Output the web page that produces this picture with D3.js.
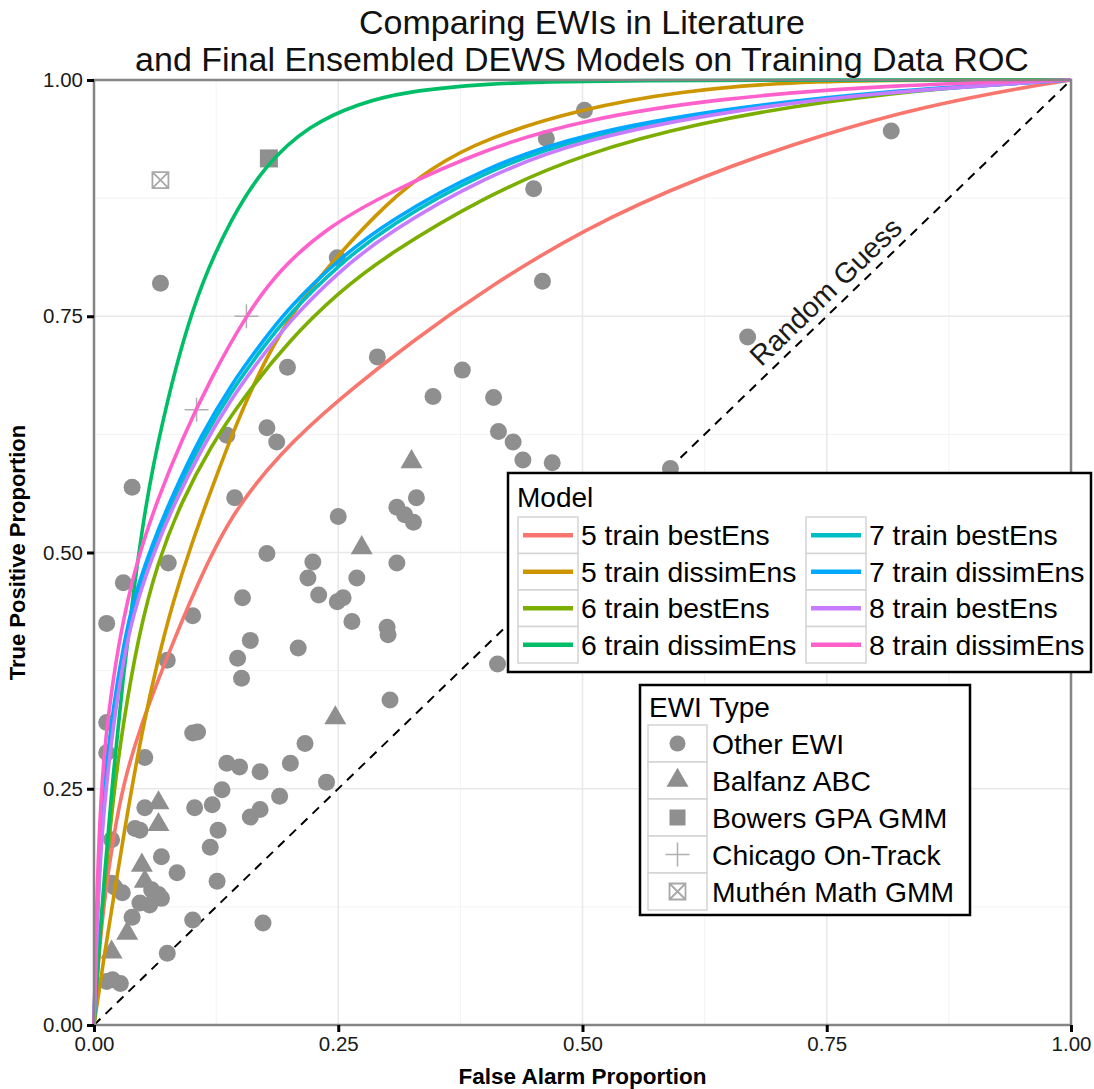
<!DOCTYPE html>
<html>
<head>
<meta charset="utf-8">
<script src="https://cdn.jsdelivr.net/npm/d3@7/dist/d3.min.js"></script>
<style>
  body { margin: 0; background: #fff; }
  text { font-family: "Liberation Sans", Arial, sans-serif; }
</style>
</head>
<body>
<div id="vis"></div>
<script>
// ---- data ----
var modelNames = ["5 train bestEns", "5 train dissimEns", "6 train bestEns", "6 train dissimEns",
                  "7 train bestEns", "7 train dissimEns", "8 train bestEns", "8 train dissimEns"];

// ROC points [false alarm, true positive]
var roc5Best = [[0,0],[0.003,0.05],[0.01,0.13],[0.02,0.2],[0.03,0.255],[0.047,0.315],[0.075,0.39],[0.105,0.465],
  [0.14,0.54],[0.19,0.605],[0.25,0.662],[0.33,0.727],[0.4,0.778],[0.5,0.842],[0.62,0.898],[0.75,0.944],[0.85,0.972],[0.95,0.992],[1,1]];
var roc5Dissim = [[0,0],[0.01,0.07],[0.02,0.135],[0.035,0.23],[0.05,0.315],[0.065,0.385],[0.08,0.445],[0.1,0.51],
  [0.122,0.572],[0.145,0.635],[0.175,0.705],[0.21,0.765],[0.25,0.815],[0.3,0.87],[0.345,0.907],[0.4,0.938],[0.5,0.97],
  [0.6,0.988],[0.7,0.997],[0.8,1],[1,1]];
var roc6Best = [[0,0],[0.005,0.08],[0.01,0.14],[0.02,0.245],[0.03,0.32],[0.045,0.41],[0.065,0.49],[0.09,0.555],
  [0.12,0.613],[0.15,0.66],[0.2,0.725],[0.25,0.775],[0.3,0.815],[0.4,0.877],[0.5,0.922],[0.62,0.955],[0.75,0.978],[0.88,0.993],[1,1]];
var roc6Dissim = [[0,0],[0.005,0.08],[0.01,0.15],[0.02,0.27],[0.03,0.37],[0.04,0.455],[0.05,0.53],[0.06,0.59],
  [0.075,0.66],[0.09,0.72],[0.11,0.785],[0.14,0.853],[0.175,0.91],[0.22,0.952],[0.27,0.975],[0.32,0.988],[0.4,0.996],[0.5,1],[1,1]];
var roc7Best = [[0,0],[0.002,0.075],[0.005,0.16],[0.01,0.24],[0.02,0.33],[0.03,0.393],[0.04,0.443],[0.06,0.504],
  [0.08,0.554],[0.11,0.618],[0.14,0.67],[0.17,0.713],[0.2,0.753],[0.25,0.804],[0.3,0.845],[0.4,0.904],[0.5,0.94],
  [0.64,0.967],[0.8,0.987],[1,1]];
var roc7Dissim = [[0,0],[0.002,0.08],[0.005,0.17],[0.01,0.25],[0.02,0.34],[0.03,0.4],[0.04,0.45],[0.06,0.51],
  [0.08,0.56],[0.11,0.625],[0.14,0.677],[0.17,0.72],[0.2,0.76],[0.25,0.81],[0.3,0.85],[0.4,0.908],[0.5,0.943],
  [0.64,0.969],[0.8,0.988],[1,1]];
var roc8Best = [[0,0],[0.002,0.07],[0.005,0.15],[0.01,0.23],[0.02,0.32],[0.03,0.385],[0.04,0.435],[0.06,0.497],
  [0.08,0.547],[0.11,0.61],[0.14,0.662],[0.17,0.705],[0.2,0.745],[0.25,0.797],[0.3,0.838],[0.4,0.898],[0.5,0.937],
  [0.64,0.966],[0.8,0.987],[1,1]];
var roc8Dissim = [[0,0],[0.002,0.1],[0.005,0.2],[0.01,0.29],[0.02,0.37],[0.03,0.43],[0.045,0.495],[0.065,0.556],
  [0.09,0.62],[0.12,0.685],[0.155,0.75],[0.19,0.8],[0.24,0.845],[0.3,0.88],[0.4,0.927],[0.5,0.958],[0.64,0.981],[0.82,0.995],[1,1]];

// early warning indicators from the literature
var otherEWI = [[0.068,0.785],[0.502,0.968],[0.463,0.938],[0.45,0.885],[0.459,0.787],[0.816,0.946],[0.669,0.728],
  [0.249,0.812],[0.29,0.707],[0.198,0.696],[0.377,0.693],[0.347,0.665],[0.409,0.664],[0.414,0.628],[0.429,0.617],
  [0.439,0.598],[0.469,0.595],[0.59,0.589],[0.413,0.382],
  [0.33,0.558],[0.31,0.548],[0.318,0.54],[0.327,0.532],[0.31,0.489],[0.3,0.421],
  [0.177,0.632],[0.187,0.617],[0.136,0.624],[0.039,0.569],[0.144,0.558],[0.25,0.538],[0.177,0.499],[0.076,0.489],
  [0.224,0.49],[0.219,0.473],[0.269,0.473],[0.03,0.468],[0.23,0.455],[0.249,0.448],[0.255,0.452],[0.152,0.452],
  [0.101,0.433],[0.264,0.427],[0.301,0.413],[0.16,0.407],[0.209,0.399],[0.147,0.388],[0.075,0.386],[0.151,0.367],
  [0.013,0.425],[0.303,0.344],
  [0.101,0.309],[0.106,0.31],[0.052,0.283],[0.216,0.298],[0.136,0.277],[0.149,0.273],[0.17,0.268],[0.201,0.277],
  [0.238,0.257],[0.131,0.249],[0.19,0.242],[0.052,0.23],[0.103,0.23],[0.121,0.233],[0.16,0.22],[0.17,0.228],
  [0.042,0.208],[0.047,0.206],[0.127,0.206],[0.119,0.188],[0.069,0.178],[0.085,0.161],[0.126,0.152],[0.018,0.15],
  [0.029,0.14],[0.059,0.143],[0.066,0.138],[0.069,0.134],[0.047,0.129],[0.057,0.127],[0.039,0.114],[0.101,0.111],
  [0.173,0.108],[0.075,0.076],[0.019,0.048],[0.027,0.044],[0.013,0.046],
  [0.013,0.32],[0.013,0.288],[0.018,0.196],[0.021,0.146]];
var balfanzABC = [[0.325,0.596],[0.274,0.505],[0.247,0.325],[0.066,0.235],[0.066,0.212],[0.049,0.169],
  [0.052,0.152],[0.034,0.097],[0.018,0.077]];
var bowersGPA = [[0.179,0.917]];
var chicagoOnTrack = [[0.156,0.75],[0.105,0.651]];
var muthenMath = [[0.068,0.894]];

var ewiNames = ["Other EWI", "Balfanz ABC", "Bowers GPA GMM", "Chicago On-Track", "Muthén Math GMM"];
var tickValues = [0, 0.25, 0.5, 0.75, 1];

// ---- layout ----
var margin = {top: 80, right: 23, bottom: 64, left: 94};
var W = 1094, H = 1089;
var width = W - margin.left - margin.right;
var height = H - margin.top - margin.bottom;

var svg = d3.select("#vis").append("svg")
  .attr("width", W).attr("height", H);

var g = svg.append("g")
  .attr("transform", "translate(" + margin.left + "," + margin.top + ")");

var x = d3.scaleLinear().domain([0, 1]).range([0, width]);
var y = d3.scaleLinear().domain([0, 1]).range([height, 0]);

var z = d3.scaleOrdinal()
  .domain(modelNames)
  .range(["#F8766D", "#CD9600", "#7CAE00", "#00BE67", "#00BFC4", "#00A9FF", "#C77CFF", "#FF61CC"]);

var grey = "#8f8f8f";

// grid
var minor = [0.125, 0.375, 0.625, 0.875];
g.append("g").selectAll("line.vminor").data(minor).enter().append("line")
  .attr("x1", x).attr("x2", x).attr("y1", 0).attr("y2", height)
  .attr("stroke", "#f3f3f3").attr("stroke-width", 1);
g.append("g").selectAll("line.hminor").data(minor).enter().append("line")
  .attr("y1", y).attr("y2", y).attr("x1", 0).attr("x2", width)
  .attr("stroke", "#f3f3f3").attr("stroke-width", 1);
g.append("g").selectAll("line").data(tickValues).enter().append("line")
  .attr("x1", x).attr("x2", x).attr("y1", 0).attr("y2", height)
  .attr("stroke", "#e8e8e8").attr("stroke-width", 1.5);
g.append("g").selectAll("line").data(tickValues).enter().append("line")
  .attr("y1", y).attr("y2", y).attr("x1", 0).attr("x2", width)
  .attr("stroke", "#e8e8e8").attr("stroke-width", 1.5);

// random guess
g.append("line")
  .attr("x1", x(0)).attr("y1", y(0)).attr("x2", x(1)).attr("y2", y(1))
  .attr("stroke", "#000").attr("stroke-width", 2).attr("stroke-dasharray", "9,7");

var angle = -Math.atan(height / width) * 180 / Math.PI;
g.append("text")
  .attr("transform", "translate(" + x(0.762) + "," + y(0.762) + ") rotate(" + angle + ")")
  .attr("text-anchor", "middle")
  .attr("dy", "-0.3em")
  .attr("font-size", 28.5)
  .attr("fill", "#1a1a1a")
  .text("Random Guess");

// EWI points
var pts = g.append("g");
pts.selectAll("circle").data(otherEWI).enter().append("circle")
  .attr("cx", function(d) { return x(d[0]); })
  .attr("cy", function(d) { return y(d[1]); })
  .attr("r", 8.5).attr("fill", grey);

var tri = d3.symbol().type(d3.symbolTriangle).size(210);
pts.selectAll("path.tri").data(balfanzABC).enter().append("path")
  .attr("d", tri)
  .attr("transform", function(d) { return "translate(" + x(d[0]) + "," + y(d[1]) + ")"; })
  .attr("fill", grey);

pts.selectAll("rect.sq").data(bowersGPA).enter().append("rect")
  .attr("x", function(d) { return x(d[0]) - 9; })
  .attr("y", function(d) { return y(d[1]) - 9; })
  .attr("width", 18).attr("height", 18).attr("fill", grey);

pts.selectAll("path.cross").data(chicagoOnTrack).enter().append("path")
  .attr("d", "M-12,0H12M0,-12V12")
  .attr("transform", function(d) { return "translate(" + x(d[0]) + "," + y(d[1]) + ")"; })
  .attr("stroke", "#b0b0b0").attr("stroke-width", 1.5).attr("fill", "none");

pts.selectAll("path.box").data(muthenMath).enter().append("path")
  .attr("d", "M-8,-8H8V8H-8ZM-8,-8L8,8M8,-8L-8,8")
  .attr("transform", function(d) { return "translate(" + x(d[0]) + "," + y(d[1]) + ")"; })
  .attr("stroke", "#a8a8a8").attr("stroke-width", 1.8).attr("fill", "none");

// ROC curves
var curves = [roc5Best, roc5Dissim, roc6Best, roc6Dissim, roc7Best, roc7Dissim, roc8Best, roc8Dissim];
var line = d3.line()
  .x(function(d) { return x(d[0]); })
  .y(function(d) { return y(d[1]); })
  .curve(d3.curveBasis);

g.append("g").selectAll("path").data(curves).enter().append("path")
  .attr("d", line)
  .attr("fill", "none")
  .attr("stroke", function(d, i) { return z(modelNames[i]); })
  .attr("stroke-width", 3.6);

// panel border
g.append("rect")
  .attr("width", width).attr("height", height)
  .attr("fill", "none").attr("stroke", "#858585").attr("stroke-width", 2.5);

// axes
var xAxis = g.append("g")
  .attr("transform", "translate(0," + height + ")")
  .call(d3.axisBottom(x).tickValues(tickValues).tickFormat(d3.format(".2f")).tickSize(7).tickPadding(4));
var yAxis = g.append("g")
  .call(d3.axisLeft(y).tickValues(tickValues).tickFormat(d3.format(".2f")).tickSize(7).tickPadding(4));
[xAxis, yAxis].forEach(function(a) {
  a.select(".domain").remove();
  a.selectAll("line").attr("stroke", "#000").attr("stroke-width", 3);
  a.selectAll("text").attr("font-size", 20.5).attr("fill", "#1a1a1a")
    .attr("font-family", "Liberation Sans, Arial, sans-serif");
});

svg.append("text")
  .attr("x", margin.left + width / 2).attr("y", 1084)
  .attr("text-anchor", "middle").attr("font-size", 22.5).attr("font-weight", "bold")
  .text("False Alarm Proportion");

svg.append("text")
  .attr("transform", "translate(25," + (margin.top + height / 2) + ") rotate(-90)")
  .attr("text-anchor", "middle").attr("font-size", 22).attr("font-weight", "bold")
  .text("True Positive Proportion");

// title
var title = svg.append("text").attr("text-anchor", "middle").attr("font-size", 34).attr("fill", "#111");
title.append("tspan").attr("x", 582).attr("y", 34).text("Comparing EWIs in Literature");
title.append("tspan").attr("x", 582).attr("y", 71).text("and Final Ensembled DEWS Models on Training Data ROC");

// model legend
var lg = svg.append("g").attr("transform", "translate(508,473)");
lg.append("rect").attr("width", 583).attr("height", 199)
  .attr("fill", "#fff").attr("stroke", "#000").attr("stroke-width", 2.5);
lg.append("text").attr("x", 9).attr("y", 34).attr("font-size", 28).text("Model");

var item = lg.selectAll("g.item").data(modelNames).enter().append("g")
  .attr("transform", function(d, i) {
    return "translate(" + (i < 4 ? 10 : 298) + "," + (44 + (i % 4) * 36.5) + ")";
  });
item.append("rect").attr("width", 60).attr("height", 36.5)
  .attr("fill", "#fff").attr("stroke", "#d4d4d4").attr("stroke-width", 1.5);
item.append("line").attr("x1", 5).attr("x2", 55).attr("y1", 18.25).attr("y2", 18.25)
  .attr("stroke", function(d) { return z(d); }).attr("stroke-width", 4.5);
item.append("text").attr("x", 63).attr("y", 18.25).attr("dy", "0.36em")
  .attr("font-size", 28.3).text(function(d) { return d; });

// EWI legend
var eg = svg.append("g").attr("transform", "translate(640,685)");
eg.append("rect").attr("width", 330).attr("height", 230)
  .attr("fill", "#fff").attr("stroke", "#000").attr("stroke-width", 2.5);
eg.append("text").attr("x", 9).attr("y", 32).attr("font-size", 28).text("EWI Type");

var eitem = eg.selectAll("g.item").data(ewiNames).enter().append("g")
  .attr("transform", function(d, i) { return "translate(8," + (40 + i * 37) + ")"; });
eitem.append("rect").attr("width", 59).attr("height", 37)
  .attr("fill", "#fff").attr("stroke", "#d4d4d4").attr("stroke-width", 1.5);
eitem.append("text").attr("x", 64).attr("y", 18.5).attr("dy", "0.36em")
  .attr("font-size", 28.3).text(function(d) { return d; });
eitem.each(function(d, i) {
  var s = d3.select(this).append("g").attr("transform", "translate(29.5,18.5)");
  if (i === 0) s.append("circle").attr("r", 8).attr("fill", grey);
  if (i === 1) s.append("path").attr("d", tri).attr("fill", grey);
  if (i === 2) s.append("rect").attr("x", -8).attr("y", -8).attr("width", 16).attr("height", 16).attr("fill", grey);
  if (i === 3) s.append("path").attr("d", "M-12,0H12M0,-12V12").attr("stroke", "#b0b0b0").attr("stroke-width", 1.5);
  if (i === 4) s.append("path").attr("d", "M-8,-8H8V8H-8ZM-8,-8L8,8M8,-8L-8,8")
    .attr("stroke", "#a8a8a8").attr("stroke-width", 1.8).attr("fill", "none");
});
</script>
</body>
</html>
